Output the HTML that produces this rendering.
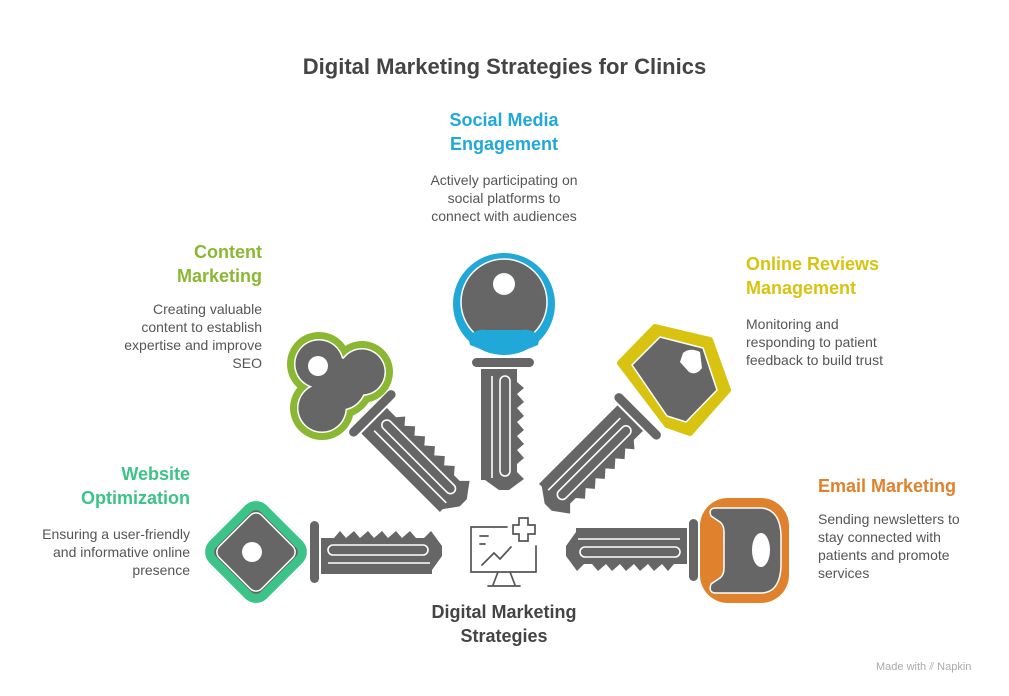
<!DOCTYPE html>
<html><head><meta charset="utf-8"><style>
html,body{margin:0;padding:0;background:#fff;}
body{width:1009px;height:696px;position:relative;overflow:hidden;font-family:"Liberation Sans",sans-serif;}
.t{position:absolute;font-weight:bold;font-size:18px;line-height:24px;}
.d{position:absolute;font-size:14px;line-height:18px;color:#555;}
</style></head><body>
<div class="t" style="left:0;width:1009px;top:53px;text-align:center;font-size:22px;color:#444;line-height:28px;">Digital Marketing Strategies for Clinics</div>

<div class="t" style="left:404px;width:200px;top:108px;text-align:center;color:#1fa8d8;">Social Media<br>Engagement</div>
<div class="d" style="left:404px;width:200px;top:171px;text-align:center;">Actively participating on<br>social platforms to<br>connect with audiences</div>

<div class="t" style="left:100px;width:162px;top:240px;text-align:right;color:#8ab832;">Content<br>Marketing</div>
<div class="d" style="left:82px;width:180px;top:300px;text-align:right;">Creating valuable<br>content to establish<br>expertise and improve<br>SEO</div>

<div class="t" style="left:746px;width:240px;top:252px;color:#d9c311;">Online Reviews<br>Management</div>
<div class="d" style="left:746px;width:180px;top:315px;">Monitoring and<br>responding to patient<br>feedback to build trust</div>

<div class="t" style="left:20px;width:170px;top:462px;text-align:right;color:#3cc387;">Website<br>Optimization</div>
<div class="d" style="left:10px;width:180px;top:525px;text-align:right;">Ensuring a user-friendly<br>and informative online<br>presence</div>

<div class="t" style="left:818px;width:180px;top:474px;color:#e0812d;">Email Marketing</div>
<div class="d" style="left:818px;width:180px;top:510px;">Sending newsletters to<br>stay connected with<br>patients and promote<br>services</div>

<div class="t" style="left:404px;width:200px;top:600px;text-align:center;color:#444;">Digital Marketing<br>Strategies</div>

<div style="position:absolute;left:876px;top:661px;font-size:11px;color:#aaa;">Made with ⫽ Napkin</div>

<svg width="1009" height="696" style="position:absolute;left:0;top:0" xmlns="http://www.w3.org/2000/svg">
<defs>
<g id="blade">
<rect x="-4" y="-31" width="9" height="62" rx="4.5" fill="#666"/>
<path d="M7,-14 L20,-14 L26,-21 L32,-14 L40,-21 L46,-14 L54,-21 L60,-14 L68,-21 L74,-14 L82,-21 L88,-14 L96,-21 L102,-14 L110,-14 L117,-21 L128,-6 L128,4 L118,18 L118,22 L7,22 Z" fill="#666"/>
<rect x="14" y="-7" width="100" height="10" rx="5" fill="none" stroke="#fff" stroke-width="1.6"/>
<line x1="14" y1="11" x2="116" y2="11" stroke="#fff" stroke-width="1.6"/>
</g>
</defs>

<!-- green website key -->
<use href="#blade" transform="translate(314,552)"/>
<rect x="220" y="516" width="72" height="72" rx="11" transform="rotate(45 256 552)" fill="#666" stroke="#3cc387" stroke-width="9"/>
<rect x="226" y="522" width="60" height="60" rx="8" transform="rotate(45 256 552)" fill="none" stroke="#fff" stroke-width="1.5"/>
<circle cx="252" cy="552" r="10" fill="#fff"/>

<!-- orange email key -->
<use href="#blade" transform="translate(694,550) rotate(180)"/>
<rect x="700" y="498" width="89" height="105" rx="28" fill="#e0812d"/>
<path d="M716,508 L762,508 Q780,510 781,535 L781,566 Q780,592 762,593 L716,593 Q708,593 711,584 L720,578 Q724,575 724,568 L724,532 Q724,525 720,522 L711,516 Q708,508 716,508 Z" fill="#666" stroke="#fff" stroke-width="1.5"/>
<ellipse cx="761" cy="550" rx="9" ry="17" fill="#fff"/>

<!-- blue social key -->
<use href="#blade" transform="translate(503,362) rotate(90)"/>
<circle cx="504" cy="304" r="51" fill="#1fa8d8"/>
<circle cx="504" cy="302" r="43" fill="#666" stroke="#fff" stroke-width="1.5"/>
<path d="M468,336 Q478,328 486,330 L522,330 Q530,328 540,336 L538,345 Q504,360 470,345 Z" fill="#1fa8d8"/>
<circle cx="504" cy="284" r="11" fill="#fff"/>

<!-- green content key -->
<use href="#blade" transform="translate(372,413) rotate(45)"/>
<g fill="#8ab832">
<circle cx="319" cy="364" r="32"/><circle cx="362" cy="372" r="31"/><circle cx="322" cy="408" r="32"/><circle cx="340" cy="384" r="34"/>
</g>
<g fill="#fff">
<circle cx="319" cy="364" r="25"/><circle cx="362" cy="372" r="24"/><circle cx="322" cy="408" r="25"/><circle cx="340" cy="384" r="27"/>
</g>
<g fill="#666">
<circle cx="319" cy="364" r="23.5"/><circle cx="362" cy="372" r="22.5"/><circle cx="322" cy="408" r="23.5"/><circle cx="340" cy="384" r="25.5"/>
</g>
<circle cx="318" cy="366" r="10" fill="#fff"/>

<!-- yellow reviews key -->
<use href="#blade" transform="translate(638,416) rotate(135)"/>
<polygon points="655,327 710,340 728,390 690,433 667,425 620,363" fill="#d9c311" stroke="#d9c311" stroke-width="6" stroke-linejoin="round"/>
<polygon points="660,337 703,348 717,390 686,422 667,416 632,365" fill="#666" stroke="#fff" stroke-width="1.5" stroke-linejoin="round"/>
<path d="M683,353 Q690,347 700,352 L702,368 Q696,376 689,372 L680,362 Z" fill="#fff"/>

<!-- center icon -->
<g fill="none" stroke="#555" stroke-width="1.7" stroke-linecap="round">
<path d="M507,527 L471,527 L471,572 L536,572 L536,546"/>
<path d="M513,525 L519,525 L519,518 L528,518 L528,525 L535,525 L535,534 L528,534 L528,541 L519,541 L519,534 L513,534 Z"/>
<line x1="480" y1="536" x2="488" y2="536"/><line x1="480" y1="544" x2="485" y2="544"/>
<polyline points="482,565 494,553 500,559 511,547"/>
<path d="M498,572 L493,585 M510,572 L515,585 M488,586 L520,586"/>
</g>
</svg>
</body></html>
